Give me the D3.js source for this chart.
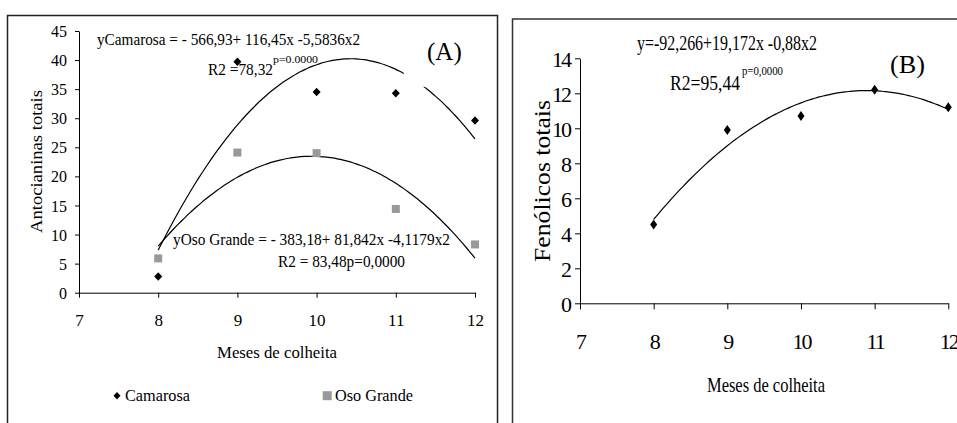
<!DOCTYPE html>
<html><head><meta charset="utf-8">
<script src="https://cdn.jsdelivr.net/npm/d3@7"></script>
<style>
html,body{margin:0;padding:0;background:#fff;}
svg{display:block;}
svg text{font-family:"Liberation Serif","Times New Roman",serif !important;}
</style></head>
<body><svg id="c" width="957" height="423"></svg>
<script>
// ---- data ----
const months = [8, 9, 10, 11, 12];
const camarosa = [2.8, 39.7, 34.5, 34.3, 29.6];
const osoGrande = [5.9, 24.1, 24.0, 14.4, 8.3];
const fenolicos = [4.5, 9.9, 10.7, 12.2, 11.2];
// regression coefficients printed on the chart (a + b x + c x^2)
const camarosaFit = [-566.93, 116.45, -5.5836];
const osoGrandeFit = [-383.18, 81.842, -4.1179];
const fenolicosFit = [-92.266, 19.172, -0.88];
const xTicks = [7, 8, 9, 10, 11, 12];
const yTicksA = [0, 5, 10, 15, 20, 25, 30, 35, 40, 45];
const yTicksB = [0, 2, 4, 6, 8, 10, 12, 14];

const svg = d3.select("#c");
const fitPts = (f) => d3.range(8, 12.0001, 0.05).map(x => [x, f[0] + f[1]*x + f[2]*x*x]);

// panel frames
svg.append("rect").attr("x",7.5).attr("y",15.5).attr("width",490).attr("height",420)
  .attr("fill","none").attr("stroke","#222").attr("stroke-width",1.5);
svg.append("rect").attr("x",512.5).attr("y",19).attr("width",460).attr("height",420)
  .attr("fill","none").attr("stroke","#333").attr("stroke-width",1.5);

function diamond(w, h){ return `M0,${-h/2}L${w/2},0L0,${h/2}L${-w/2},0Z`; }

// ================= Panel A =================
const xA = d3.scaleLinear().domain([7,12]).range([79,475]);
const yA = d3.scaleLinear().domain([0,45]).range([292.7,31]);
const gA = svg.append("g");

const axA = gA.append("g").attr("transform",`translate(0,${yA(0)})`)
  .call(d3.axisBottom(xA).tickValues(xTicks).tickSize(5).tickSizeOuter(0).tickPadding(16).tickFormat(d3.format("d")));
const ayA = gA.append("g").attr("transform",`translate(${xA(7)},0)`)
  .call(d3.axisLeft(yA).tickValues(yTicksA).tickSize(4).tickSizeOuter(0).tickPadding(8));
[axA, ayA].forEach(a => {
  a.attr("font-family",null);
  a.selectAll("text").attr("font-size",17).attr("fill","#000");
  a.selectAll("line,path").attr("stroke","#000");
});
ayA.selectAll("text").attr("dy","0.35em").attr("font-size",16);

const lineA = d3.line().x(d=>xA(d[0])).y(d=>yA(d[1])).curve(d3.curveBasis);
gA.append("path").attr("d",lineA(fitPts(camarosaFit))).attr("fill","none").attr("stroke","#000").attr("stroke-width",1.2);
gA.append("path").attr("d",lineA(fitPts(osoGrandeFit))).attr("fill","none").attr("stroke","#000").attr("stroke-width",1.2);

// white label box for (A) (hides part of the curve, as in the original)
gA.append("rect").attr("x",xA(11.1)).attr("y",yA(44)).attr("width",xA(11.9)-xA(11.1)).attr("height",yA(35.4)-yA(44)).attr("fill","#fff");
gA.append("text").attr("x",427).attr("y",60).attr("font-size",25).text("(A)");

gA.selectAll(".sq").data(months).join("rect")
  .attr("x",(d)=>xA(d)-4).attr("y",(d,i)=>yA(osoGrande[i])-4).attr("width",8).attr("height",8).attr("fill","#999");
gA.selectAll(".dm").data(months).join("path")
  .attr("transform",(d,i)=>`translate(${xA(d)},${yA(camarosa[i])})`).attr("d",diamond(8,8.5)).attr("fill","#000");

const eqA = gA.append("g").attr("font-size",17);
eqA.append("text").attr("x",97).attr("y",45).attr("textLength",263).attr("lengthAdjust","spacingAndGlyphs").text("yCamarosa = - 566,93+ 116,45x -5,5836x2");
eqA.append("text").attr("x",208).attr("y",75).attr("textLength",65).attr("lengthAdjust","spacingAndGlyphs").text("R2 =78,32");
eqA.append("text").attr("x",273).attr("y",63).attr("font-size",11).attr("textLength",45).attr("lengthAdjust","spacingAndGlyphs").text("p=0.0000");
eqA.append("text").attr("x",173).attr("y",245).attr("textLength",277).attr("lengthAdjust","spacingAndGlyphs").text("yOso Grande = - 383,18+ 81,842x -4,1179x2");
eqA.append("text").attr("x",278).attr("y",266.5).attr("textLength",127).attr("lengthAdjust","spacingAndGlyphs").text("R2 = 83,48p=0,0000");

gA.append("text").attr("x",217).attr("y",357.5).attr("font-size",17).attr("textLength",120).attr("lengthAdjust","spacingAndGlyphs").text("Meses de colheita");
gA.append("text").attr("transform","translate(42,233) rotate(-90)").attr("font-size",17).attr("textLength",143).attr("lengthAdjust","spacingAndGlyphs").text("Antocianinas totais");

// legend
gA.append("path").attr("transform","translate(117,395.7)").attr("d",diamond(7,7.5)).attr("fill","#000");
gA.append("text").attr("x",125).attr("y",400.7).attr("font-size",16).attr("textLength",65).attr("lengthAdjust","spacingAndGlyphs").text("Camarosa");
gA.append("rect").attr("x",322.7).attr("y",391.2).attr("width",9).attr("height",9).attr("fill","#999");
gA.append("text").attr("x",335).attr("y",400.7).attr("font-size",16).attr("textLength",78).attr("lengthAdjust","spacingAndGlyphs").text("Oso Grande");

// ================= Panel B =================
const xB = d3.scaleLinear().domain([7,12]).range([580,948.3]);
const yB = d3.scaleLinear().domain([0,14]).range([303.3,58.3]);
const gB = svg.append("g");

const axB = gB.append("g").attr("transform",`translate(0,${yB(0)})`)
  .call(d3.axisBottom(xB).tickValues(xTicks).tickSize(6).tickSizeOuter(0).tickPadding(24).tickFormat(d3.format("d")));
const ayB = gB.append("g").attr("transform",`translate(${xB(7)},0)`)
  .call(d3.axisLeft(yB).tickValues(yTicksB).tickSize(5).tickSizeOuter(0).tickPadding(5));
[axB, ayB].forEach(a => {
  a.attr("font-family",null);
  a.selectAll("text").attr("font-size",22).attr("letter-spacing","-2px").attr("fill","#000");
  a.selectAll("line,path").attr("stroke","#000");
});
ayB.selectAll("text").attr("dy","0.35em");

const lineB = d3.line().x(d=>xB(d[0])).y(d=>yB(d[1])).curve(d3.curveBasis);
gB.append("path").attr("d",lineB(fitPts(fenolicosFit))).attr("fill","none").attr("stroke","#000").attr("stroke-width",1.2);
gB.selectAll(".dmb").data(months).join("path")
  .attr("transform",(d,i)=>`translate(${xB(d)},${yB(fenolicos[i])})`).attr("d",diamond(7,10)).attr("fill","#000");

const eqB = gB.append("g").attr("font-size",20);
eqB.append("text").attr("x",637).attr("y",50).attr("textLength",180).attr("lengthAdjust","spacingAndGlyphs").text("y=-92,266+19,172x -0,88x2");
eqB.append("text").attr("x",670).attr("y",90).attr("textLength",70).attr("lengthAdjust","spacingAndGlyphs").text("R2=95,44");
eqB.append("text").attr("x",742).attr("y",75).attr("font-size",13).attr("textLength",41).attr("lengthAdjust","spacingAndGlyphs").text("p=0,0000");
gB.append("text").attr("x",890).attr("y",72.5).attr("font-size",25).attr("textLength",35).attr("lengthAdjust","spacingAndGlyphs").text("(B)");

gB.append("text").attr("x",707).attr("y",391.7).attr("font-size",22).attr("textLength",118).attr("lengthAdjust","spacingAndGlyphs").text("Meses de colheita");
gB.append("text").attr("transform","translate(550,262) rotate(-90)").attr("font-size",23).attr("textLength",162).attr("lengthAdjust","spacingAndGlyphs").text("Fenólicos totais");
</script></body></html>
